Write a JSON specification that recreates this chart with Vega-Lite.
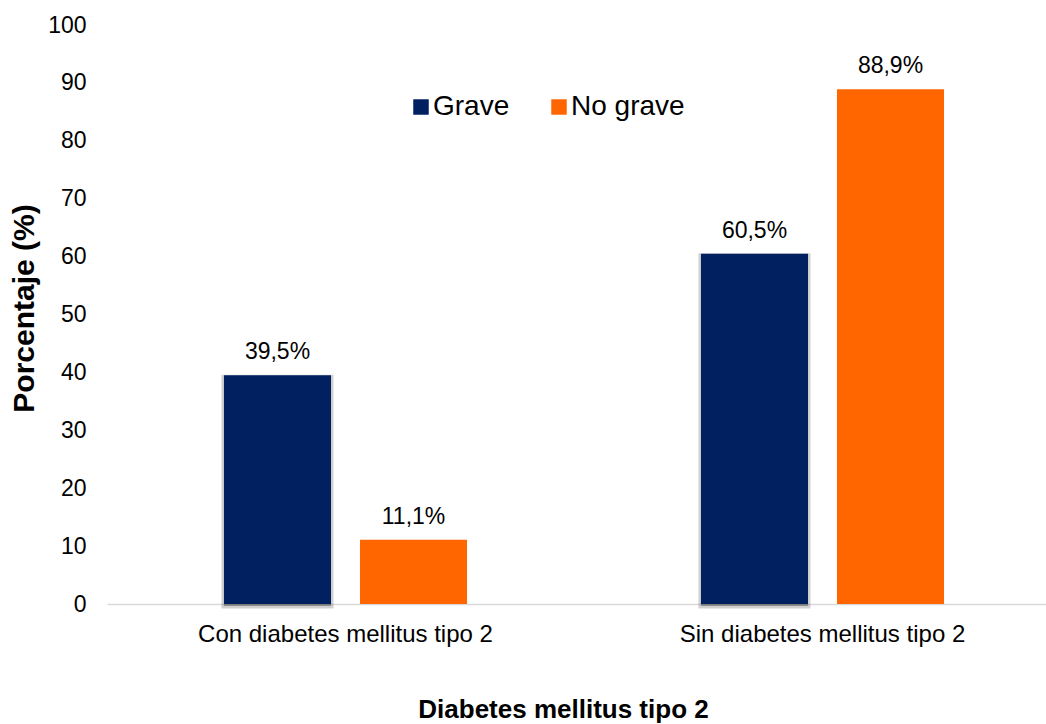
{
  "$schema": "https://vega.github.io/schema/vega-lite/v6.json",
  "width": 939,
  "height": 579,
  "autosize": {"type": "none"},
  "padding": {"left": 107, "top": 25, "right": 0, "bottom": 120},
  "background": "white",
  "config": {"font": "Liberation Sans", "view": {"stroke": null}},
  "data": {
    "values": [
      {"categoria": "Con diabetes mellitus tipo 2", "gravedad": "Grave", "porcentaje": 39.5, "etiqueta": "39,5%"},
      {"categoria": "Con diabetes mellitus tipo 2", "gravedad": "No grave", "porcentaje": 11.1, "etiqueta": "11,1%"},
      {"categoria": "Sin diabetes mellitus tipo 2", "gravedad": "Grave", "porcentaje": 60.5, "etiqueta": "60,5%"},
      {"categoria": "Sin diabetes mellitus tipo 2", "gravedad": "No grave", "porcentaje": 88.9, "etiqueta": "88,9%"}
    ]
  },
  "encoding": {
    "x": {
      "field": "categoria",
      "type": "nominal",
      "sort": ["Con diabetes mellitus tipo 2", "Sin diabetes mellitus tipo 2"],
      "scale": {"range": [0, 954], "paddingInner": 0, "paddingOuter": 0},
      "axis": {
        "title": "Diabetes mellitus tipo 2",
        "titleFontSize": 26,
        "titleFontWeight": "bold",
        "titleColor": "#000000",
        "titleBaseline": "alphabetic",
        "titleX": 456,
        "titleY": 113,
        "labelAngle": 0,
        "labelFontSize": 24,
        "labelLimit": 0,
        "labelColor": "#000000",
        "labelPadding": 18,
        "ticks": false,
        "tickSize": 0,
        "domainColor": "#d9d9d9",
        "domainWidth": 1.5,
        "grid": false
      }
    },
    "xOffset": {
      "field": "gravedad",
      "type": "nominal",
      "sort": ["Grave", "No grave"],
      "scale": {"paddingInner": 0.213, "paddingOuter": 0.86}
    },
    "y": {
      "field": "porcentaje",
      "type": "quantitative",
      "scale": {"domain": [0, 100], "nice": false},
      "axis": {
        "title": "Porcentaje (%)",
        "titleFontSize": 30,
        "titleFontWeight": "bold",
        "titleColor": "#000000",
        "titleBaseline": "alphabetic",
        "titleAngle": -90,
        "titleAlign": "center",
        "titleX": -74,
        "titleY": 283,
        "values": [0, 10, 20, 30, 40, 50, 60, 70, 80, 90, 100],
        "labelFontSize": 23,
        "labelColor": "#000000",
        "labelPadding": 21,
        "ticks": false,
        "tickSize": 0,
        "domain": false,
        "grid": false
      }
    }
  },
  "layer": [
    {
      "transform": [{"filter": "datum.gravedad === 'Grave'"}],
      "mark": {"type": "bar", "fill": "#000000", "fillOpacity": 0.3, "stroke": "#000000", "strokeWidth": 5, "strokeOpacity": 0.18, "yOffset": 2}
    },
    {
      "mark": {"type": "bar"},
      "encoding": {
        "color": {
          "field": "gravedad",
          "type": "nominal",
          "sort": ["Grave", "No grave"],
          "scale": {"domain": ["Grave", "No grave"], "range": ["#002060", "#FF6600"]},
          "legend": {
            "title": null,
            "orient": "none",
            "direction": "horizontal",
            "legendX": 300,
            "legendY": 68,
            "symbolType": "square",
            "symbolSize": 240,
            "symbolStrokeWidth": 0,
            "labelFontSize": 28,
            "labelColor": "#000000",
            "labelOffset": -2,
            "columnPadding": 35
          }
        }
      }
    },
    {
      "mark": {"type": "text", "baseline": "alphabetic", "dy": -16, "fontSize": 23, "color": "#000000"},
      "encoding": {"text": {"field": "etiqueta"}}
    }
  ]
}
